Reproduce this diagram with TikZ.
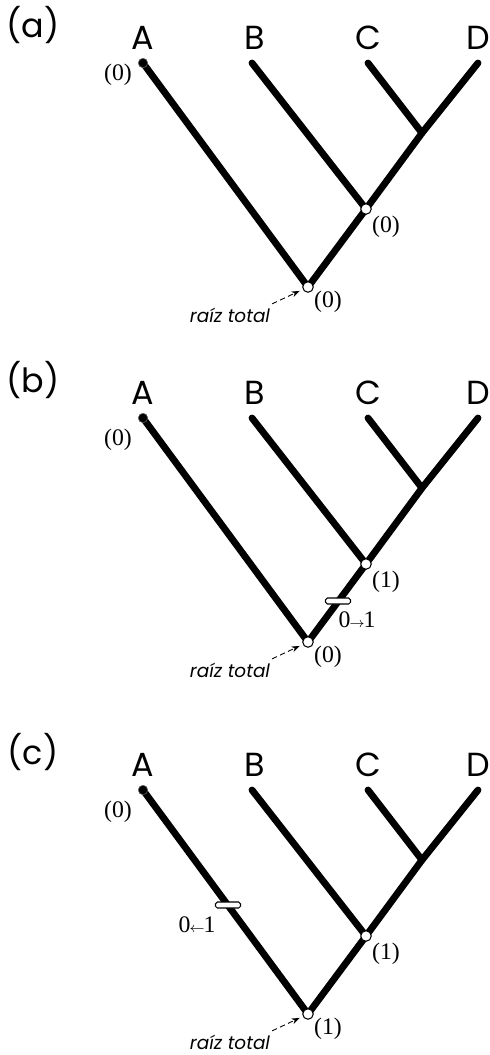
\documentclass[tikz,border=0pt]{standalone}
\usepackage{fontspec}
\setmainfont{Liberation Serif}
\newfontfamily\geo{Poppins}
\usetikzlibrary{arrows.meta,positioning,backgrounds}

\begin{document}
\begin{tikzpicture}[
  x=0.02cm, y=-0.02cm,
  >={Stealth[length=1.6mm]},
  rama/.style={line width=3.9pt, line cap=round},
  nodo/.style={circle, draw=black, fill=white, line width=0.6pt,
               inner sep=0pt, minimum size=2.1mm},
  punta/.style={circle, fill=black, draw=black!60, line width=0.3pt,
                inner sep=0pt, minimum size=1.9mm},
  cambio/.style={rounded corners=1pt, draw=black, fill=white, line width=0.6pt,
                 inner sep=0pt, minimum width=5mm, minimum height=1.2mm},
  panel/.style={font=\geo\fontsize{19}{22}\selectfont},
  taxon/.style={font=\geo\fontsize{19}{22}\selectfont},
  estado/.style={font=\fontsize{13.5}{15}\selectfont, inner sep=1pt},
  nota/.style={font=\geo\itshape\fontsize{10.5}{12}\selectfont, inner sep=1pt},
  flecha/.style={->, densely dashed, line width=0.5pt},
]
\useasboundingbox (0,0) rectangle (490,1055);

% Three panels: same tree, different states
\foreach \p/\dy/\ya/\ka/\kr in {a/0/75/0/0, b/355/85/1/0, c/727/85/1/1}{
  \begin{scope}[shift={(0,\dy)}]
    % Panel label and taxa
    \node[panel] (lbl\p) at (33,25) {(\p)};
    \node[taxon] (tA\p) at (143,38) {A};
    \node[taxon] (tB\p) at (255,38) {B};
    \node[taxon] (tC\p) at (368,38) {C};
    \node[taxon] (tD\p) at (478,38) {D};

    % Tips, junction and nodes
    \node[punta] (A\p) at (143,63) {};
    \coordinate (B\p) at (252,63);
    \coordinate (C\p) at (368,63);
    \coordinate (D\p) at (478,63);
    \coordinate (cd\p) at (422,133);
    \node[nodo] (bcd\p) at (366,209) {};
    \node[nodo] (raiz\p) at (308,287) {};

    % Branches
    \begin{scope}[on background layer]
      \draw[rama] (A\p.center) -- (raiz\p.center);
      \draw[rama] (raiz\p.center) -- (bcd\p.center) -- (cd\p) -- (D\p);
      \draw[rama] (B\p) -- (bcd\p.center);
      \draw[rama] (C\p) -- (cd\p);
    \end{scope}

    % States
    \node[estado] (eA\p) at (118,\ya) {(0)};
    \node[estado] (ebcd\p) at (386,227) {(\ka)};
    \node[estado] (eraiz\p) at (328,302) {(\kr)};

    % Root label
    \node[nota] (rt\p) at (230,315) {raíz total};
    \draw[flecha, shorten >=2pt] ([yshift=1pt]rt\p.north east) -- (raiz\p);
  \end{scope}
}

% Character changes
\node[cambio] (mb) at (338,601) {};
\node[estado] (lmb) at (357,620) {0\kern-0.5pt{\footnotesize$\rightarrow$}\kern-0.5pt1};
\node[cambio] (mc) at (228,905) {};
\node[estado] (lmc) at (197,925) {0\kern-0.5pt{\footnotesize$\leftarrow$}\kern-0.5pt1};

\end{tikzpicture}
\end{document}
